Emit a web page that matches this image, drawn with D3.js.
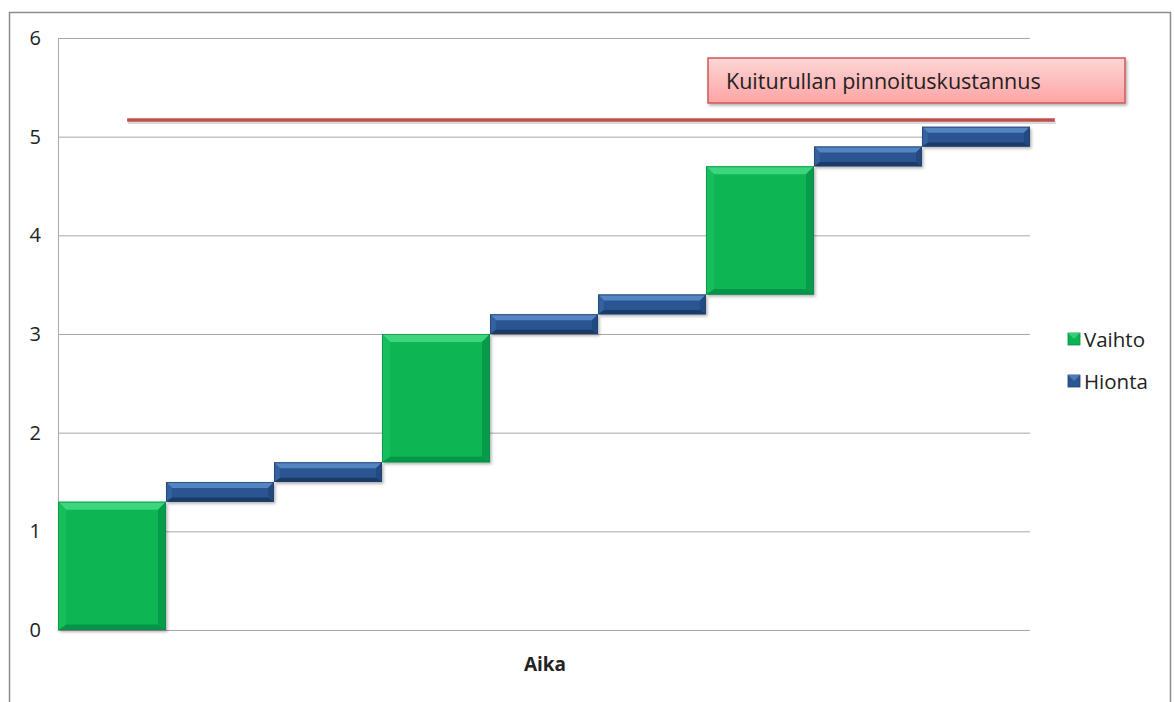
<!DOCTYPE html>
<html>
<head>
<meta charset="utf-8">
<script src="https://cdn.jsdelivr.net/npm/d3@7"></script>
<style>
  body { margin: 0; background: #fff; }
  text { font-family: "Open Sans", sans-serif; fill: #222; }
</style>
</head>
<body>
<div id="chart"></div>
<script>
// data
const categories = ['1', '2', '3', '4', '5', '6', '7', '8', '9'];
const baseValues = [0, 1.3, 1.5, 1.7, 3.0, 3.2, 3.4, 4.7, 4.9];
const vaihtoValues = [1.3, 0, 0, 1.3, 0, 0, 1.3, 0, 0];
const hiontaValues = [0, 0.2, 0.2, 0, 0.2, 0.2, 0, 0.2, 0.2];
const yTicks = [0, 1, 2, 3, 4, 5, 6];
const costLevel = 5.17;
const costLineSpan = [0.64, 9.23];   // in category units
const costLabel = 'Kuiturullan pinnoituskustannus';
const seriesNames = ['Vaihto', 'Hionta'];

const W = 1175, H = 702;
const margins = { top: 38, right: 145, bottom: 72, left: 58 };
const width = W - margins.left - margins.right;
const height = H - margins.top - margins.bottom;

const palette = {
  Vaihto: { main: '#08b552', top: '#3ed67c', bottom: '#06944a', left: '#14bf5c', right: '#079c4c', stroke: '#0a8a42' },
  Hionta: { main: '#2a5592', top: '#5584c2', bottom: '#1b3a66', left: '#3462a0', right: '#224a80', stroke: '#1c3d6c' }
};

const svg = d3.select('#chart').append('svg')
  .attr('width', W).attr('height', H);

const defs = svg.append('defs');
const shadow = defs.append('filter').attr('id', 'shadow')
  .attr('x', '-10%').attr('y', '-20%').attr('width', '130%').attr('height', '160%');
shadow.append('feDropShadow').attr('dx', 1.5).attr('dy', 2).attr('stdDeviation', 1.5)
  .attr('flood-color', '#000').attr('flood-opacity', 0.3);

const pinkGrad = defs.append('linearGradient').attr('id', 'pink')
  .attr('x1', 0).attr('y1', 0).attr('x2', 0).attr('y2', 1);
pinkGrad.append('stop').attr('offset', '0%').attr('stop-color', '#fcd6d6');
pinkGrad.append('stop').attr('offset', '100%').attr('stop-color', '#ffa4a4');

// outer frame
svg.append('path')
  .attr('d', `M9.5,${H} V12.5 H1170.5 V${H}`)
  .attr('fill', 'none').attr('stroke', '#8c8c8c').attr('stroke-width', 1.5);

const g = svg.append('g')
  .attr('transform', `translate(${margins.left}, ${margins.top})`);

const xScale = d3.scaleBand().domain(categories).range([0, width]).padding(0);
const xUnits = d3.scaleLinear().domain([0, categories.length]).range([0, width]);
const yScale = d3.scaleLinear().domain([0, 6]).range([height, 0]);

// gridlines + y axis
const yAxis = d3.axisLeft(yScale)
  .tickValues(yTicks)
  .tickSize(-width)
  .tickPadding(17)
  .tickFormat(d3.format('d'));

const $yAxis = g.append('g').call(yAxis);
$yAxis.select('.domain').remove();
$yAxis.selectAll('line').attr('stroke', '#a8a8a8').attr('stroke-width', 1);
$yAxis.selectAll('text').style('font-size', '20px').attr('fill', '#222');

g.append('line')
  .attr('x1', 0.5).attr('x2', 0.5).attr('y1', 0).attr('y2', height)
  .attr('stroke', '#a8a8a8');

// bars
const bars = [];
categories.forEach((c, i) => {
  let base = baseValues[i];
  if (vaihtoValues[i] > 0) {
    bars.push({ cat: c, series: 'Vaihto', y0: base, y1: base + vaihtoValues[i] });
    base += vaihtoValues[i];
  }
  if (hiontaValues[i] > 0) {
    bars.push({ cat: c, series: 'Hionta', y0: base, y1: base + hiontaValues[i] });
  }
});

function bevel(sel) {
  sel.each(function(d) {
    const x0 = xScale(d.cat), x1 = x0 + xScale.bandwidth();
    const top = yScale(d.y1), bot = yScale(d.y0);
    const b = Math.min(8, (bot - top) * 0.3);
    const c = palette[d.series];
    const el = d3.select(this);
    el.append('rect')
      .attr('x', x0).attr('y', top).attr('width', x1 - x0).attr('height', bot - top)
      .attr('fill', c.main).attr('filter', 'url(#shadow)');
    el.append('polygon')
      .attr('points', [[x0, top], [x1, top], [x1 - b, top + b], [x0 + b, top + b]].join(' '))
      .attr('fill', c.top);
    el.append('polygon')
      .attr('points', [[x0, bot], [x1, bot], [x1 - b, bot - b * 0.7], [x0 + b, bot - b * 0.7]].join(' '))
      .attr('fill', c.bottom);
    el.append('polygon')
      .attr('points', [[x0, top], [x0 + b, top + b], [x0 + b, bot - b * 0.7], [x0, bot]].join(' '))
      .attr('fill', c.left);
    el.append('polygon')
      .attr('points', [[x1, top], [x1 - b, top + b], [x1 - b, bot - b * 0.7], [x1, bot]].join(' '))
      .attr('fill', c.right);
    el.append('rect')
      .attr('x', x0 + 0.5).attr('y', top + 0.5).attr('width', x1 - x0 - 1).attr('height', bot - top - 1)
      .attr('fill', 'none').attr('stroke', c.stroke).attr('stroke-width', 1).attr('stroke-opacity', 0.7);
  });
}

g.selectAll('.bar')
  .data(bars)
  .enter()
  .append('g')
  .classed('bar', true)
  .call(bevel);

// cost line (soft shadow drawn as a second line underneath)
const costY = yScale(costLevel);
g.append('line')
  .attr('x1', xUnits(costLineSpan[0]) + 1).attr('x2', xUnits(costLineSpan[1]) + 1)
  .attr('y1', costY + 2.5).attr('y2', costY + 2.5)
  .attr('stroke', '#000').attr('stroke-opacity', 0.15).attr('stroke-width', 3);
g.append('line')
  .attr('x1', xUnits(costLineSpan[0])).attr('x2', xUnits(costLineSpan[1]))
  .attr('y1', costY).attr('y2', costY)
  .attr('stroke', '#c0504d').attr('stroke-width', 3.5);

// cost label box
const box = svg.append('g').attr('transform', 'translate(708, 58)');
box.append('rect')
  .attr('width', 417).attr('height', 45)
  .attr('fill', 'url(#pink)').attr('stroke', '#cd5a58').attr('stroke-width', 1.5)
  .attr('filter', 'url(#shadow)');
box.append('text')
  .attr('x', 18).attr('y', 31)
  .style('font-size', '21.5px')
  .attr('fill', '#1a1a1a')
  .text(costLabel);

// x axis title
svg.append('text')
  .attr('x', 545).attr('y', 671)
  .attr('text-anchor', 'middle')
  .style('font-size', '19px').style('font-weight', 'bold')
  .text('Aika');

// legend
const legend = svg.append('g').attr('transform', 'translate(1068, 339)');
const $items = legend.selectAll('.item')
  .data(seriesNames)
  .enter()
  .append('g')
  .attr('transform', (d, i) => `translate(0, ${i * 42})`);

$items.append('rect')
  .attr('x', 0).attr('y', -6).attr('width', 12).attr('height', 12)
  .attr('fill', d => palette[d].main).attr('stroke', d => palette[d].stroke).attr('stroke-width', 0.8);
$items.append('polygon')
  .attr('points', '0,-6 12,-6 6,0')
  .attr('fill', d => palette[d].top).attr('opacity', 0.8);

$items.append('text')
  .attr('x', 16).attr('y', 7.5)
  .style('font-size', '20.5px')
  .text(d => d);
</script>
</body>
</html>
